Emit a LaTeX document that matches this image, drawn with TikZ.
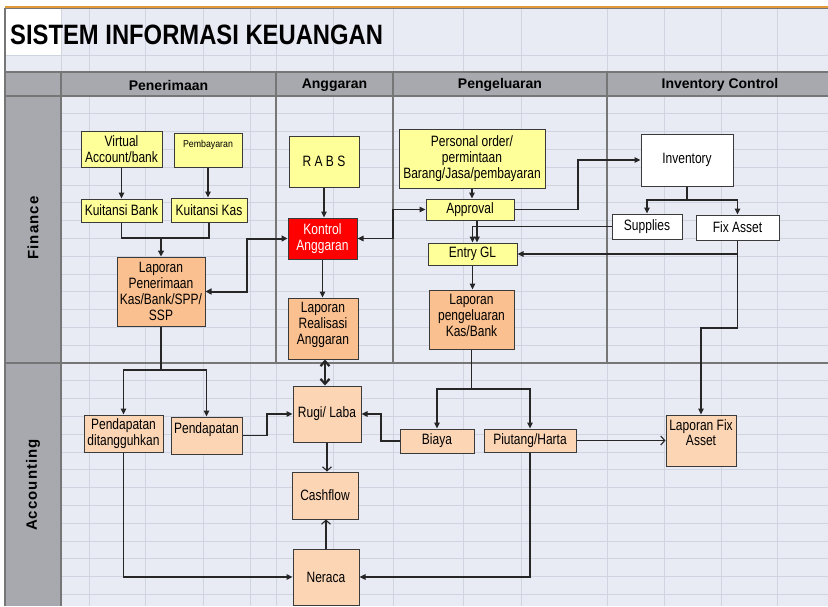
\documentclass[tikz,border=0pt]{standalone}
\usepackage{fontspec}
\setmainfont{Liberation Sans}
\usetikzlibrary{arrows.meta,calc}

\definecolor{sheet}{HTML}{E8EAF4}
\definecolor{gridc}{HTML}{D0D4E1}
\definecolor{band}{HTML}{A7A9AF}
\definecolor{laneline}{HTML}{767676}
\definecolor{boxyel}{HTML}{FFFF99}
\definecolor{boxorg}{HTML}{FAC090}
\definecolor{boxpch}{HTML}{FCD5B4}
\definecolor{boxred}{HTML}{FF0000}
\definecolor{edge}{HTML}{3A3A3A}
\definecolor{wire}{HTML}{262626}
\definecolor{topline}{HTML}{E39B3A}

% condensed text, as the worksheet renders it
\newcommand{\boxfont}{\fontsize{15}{15.8}\selectfont\addfontfeature{FakeStretch=0.8}}
\newcommand{\smallboxfont}{\fontsize{10}{12}\selectfont\addfontfeature{FakeStretch=0.88}}

\begin{document}
\begin{tikzpicture}[x=1pt,y=-1pt,
  gridline/.style={draw=gridc, line width=0.8pt},
  lanedark/.style={draw=laneline, line width=1.2pt},
  hdr/.style={font=\bfseries\fontsize{14}{16}\selectfont, text=black, inner sep=0pt},
  lanelabel/.style={font=\bfseries\fontsize{15}{18}\selectfont\addfontfeature{LetterSpace=7}, rotate=90, inner sep=0pt},
  box/.style={draw=edge, line width=1pt, inner sep=0pt, align=center,
    font=\boxfont, text=black},
  yel/.style={box, fill=boxyel},
  org/.style={box, fill=boxorg},
  pch/.style={box, fill=boxpch},
  wht/.style={box, fill=white},
  arr/.style={draw=wire, line width=1.1pt, -{Triangle[length=6pt,width=5.5pt]}},
  arrboth/.style={draw=wire, line width=1.1pt, {Triangle[length=6pt,width=5.5pt]}-{Triangle[length=6pt,width=5.5pt]}},
  fatboth/.style={draw=wire, line width=2pt, {Triangle[length=6pt,width=6pt]}-{Triangle[length=6pt,width=6pt]}},
  fatarr/.style={draw=wire, line width=2pt, -{Triangle[length=6pt,width=6pt]}},
  barbboth/.style={draw=wire, line width=2.2pt, {Straight Barb[length=5pt,width=9pt]}-{Straight Barb[length=5pt,width=9pt]}},
  openarr/.style={draw=wire, line width=1.1pt, -{Straight Barb[length=4pt,width=9pt]}},
  wire/.style={draw=wire, line width=1.1pt}
]
\useasboundingbox (0,0) rectangle (828,606);

% ---- worksheet background and grid ----
\fill[white] (0,0) rectangle (828,606);
\fill[sheet] (5,8) rectangle (828,606);
\foreach \gx in {61,89,145,203,250,276,333,393,463,521,607,664,721,777}
  \draw[gridline] (\gx,8) -- (\gx,606);
\draw[gridline] (5,55) -- (828,55);
\foreach \k in {1,...,14}
  \draw[gridline] (61,{96+17.8*\k}) -- (828,{96+17.8*\k});
\foreach \k in {1,...,13}
  \draw[gridline] (61,{363+17.8*\k}) -- (828,{363+17.8*\k});
\fill[white] (5.6,8.8) rectangle (60.6,54.6);

% ---- header band and lane column ----
\fill[band] (5,72) rectangle (828,96);
\fill[band] (5,96) rectangle (61,606);
\draw[lanedark] (5,72) -- (828,72);
\draw[lanedark] (5,96) -- (828,96);
\draw[lanedark] (5,363) -- (828,363);
\draw[lanedark] (61,72) -- (61,606);
\foreach \gx in {276,393,607}
  \draw[lanedark] (\gx,72) -- (\gx,363);
\draw[lanedark] (5,8) -- (5,606);
\draw[draw=topline, line width=1.6pt] (5,6.8) -- (828,6.8);
\draw[draw=laneline, line width=0.7pt] (5,8.4) -- (828,8.4);

% ---- title and headings ----
\node[font=\bfseries\fontsize{28}{30}\selectfont\addfontfeature{FakeStretch=0.85}, anchor=west, inner sep=0pt] (title) at (10,35) {SISTEM INFORMASI KEUANGAN};
\node[hdr] (hpen) at (168.5,85) {Penerimaan};
\node[hdr] (hang) at (334.5,85) {Anggaran};
\node[hdr] (hpel) at (500,85) {Pengeluaran};
\node[hdr] (hinv) at (720,85) {Inventory Control};
\node[lanelabel] (lfin) at (33,228) {Finance};
\node[lanelabel] (lacc) at (33,485) {Accounting};

% ---- Finance lane ----
\node[yel, minimum width=81pt, minimum height=36pt] (va) at (121.5,149) {Virtual\\Account/bank};
\node[yel, minimum width=68pt, minimum height=34pt, font=\smallboxfont] (pb) at (208,150) {Pembayaran\\\mbox{}};
\node[yel, minimum width=81pt, minimum height=23pt] (kb) at (121.5,210.5) {Kuitansi Bank};
\node[yel, minimum width=76pt, minimum height=24pt] (kk) at (209,210) {Kuitansi Kas};
\node[org, minimum width=88pt, minimum height=69pt] (lp) at (161,291.5) {Laporan\\Penerimaan\\Kas/Bank/SPP/\\SSP};

\node[yel, minimum width=70pt, minimum height=51pt] (rabs) at (324,161.5) {R A B S};
\node[box, fill=boxred, text=white, minimum width=69pt, minimum height=41pt] (ka) at (322.5,238.5) {Kontrol\\Anggaran};
\node[org, minimum width=70pt, minimum height=61pt] (lr) at (323,328.5) {Laporan\\Realisasi\\Anggaran\\[-6pt]\mbox{}};

\node[yel, minimum width=146pt, minimum height=59pt] (po) at (472,158.5) {Personal order/\\permintaan\\Barang/Jasa/pembayaran};
\node[yel, minimum width=88pt, minimum height=21pt] (ap) at (470,209.5) {Approval};
\node[yel, minimum width=89pt, minimum height=22pt] (eg) at (472.5,254) {Entry GL};
\node[org, minimum width=85pt, minimum height=59pt] (lk) at (471.5,319.5) {Laporan\\pengeluaran\\Kas/Bank\\[-8pt]\mbox{}};

\node[wht, minimum width=92pt, minimum height=52pt] (inv) at (687,160) {Inventory};
\node[wht, minimum width=70pt, minimum height=25pt] (sup) at (647,226.5) {Supplies};
\node[wht, minimum width=83pt, minimum height=25pt] (fa) at (737.5,227.5) {Fix Asset};

% ---- Accounting lane ----
\node[pch, minimum width=79pt, minimum height=37pt] (pd) at (123.5,433.5) {Pendapatan\\ditangguhkan};
\node[pch, minimum width=71pt, minimum height=37pt] (pn) at (206.5,435.5) {Pendapatan\\\mbox{}};
\node[pch, minimum width=68pt, minimum height=56pt] (rl) at (327,414) {Rugi/ Laba};
\node[pch, minimum width=66pt, minimum height=47pt] (cf) at (325,495.5) {Cashflow};
\node[pch, minimum width=66pt, minimum height=56pt] (ne) at (326,577) {Neraca};
\node[pch, minimum width=74pt, minimum height=24pt] (bi) at (437,441) {Biaya};
\node[pch, minimum width=92pt, minimum height=23pt] (ph) at (530,440.5) {Piutang/Harta};
\node[pch, minimum width=70pt, minimum height=51pt] (lfa) at (701,440.5) {Laporan Fix\\Asset\\\mbox{}};

% ---- junction points ----
\coordinate (jk) at (161,238);
\coordinate (jp) at (247,291.5);
\coordinate (ja) at (393,209.5);
\coordinate (jo) at (578,209.5);
\coordinate (ji) at (687,200);
\coordinate (jf) at (737.5,328);
\coordinate (jl) at (161,370);
\coordinate (jn) at (267,435.5);
\coordinate (jb) at (381,441);
\coordinate (jg) at (471.5,389);

% ---- Finance connectors ----
\draw[arr] (va.south) -- (kb.north);
\draw[arr] (pb.south) -- (pb.south |- kk.north);
\draw[wire] (kb.south) |- (jk);
\draw[wire] (kk.south) |- (jk);
\draw[fatarr] (jk) -- (lp.north);
\draw[fatboth] (ka.west) -| (jp) -- (lp.east);
\draw[arr] (rabs.south) -- (rabs.south |- ka.north);
\draw[arr] (ka.south) -- (ka.south |- lr.north);
\draw[arrboth] (ka.east) -| (ja) -- (ap.west);
\draw[arr] (po.south) -- (po.south |- ap.north);
\draw[arr] ([xshift=7pt]ap.south) -- ([xshift=7pt]ap.south |- eg.north);
\draw[arr] (sup.west) -| (eg.north);
\draw[arr] (fa.south) |- (eg.east);
\draw[arr] (fa.south) -- (jf) -| (lfa.north);
\draw[arr] (ap.east) -- (jo) |- (inv.west);
\draw[wire] (inv.south) -- (ji);
\draw[arr] (ji) -| (sup.north);
\draw[arr] (ji) -| (fa.north);
\draw[arr] (eg.south) -- (eg.south |- lk.north);

% ---- Accounting connectors ----
\draw[wire] (lp.south) -- (jl);
\draw[arr] (jl) -| (pd.north);
\draw[arr] (jl) -| (pn.north);
\draw[barbboth] ([xshift=2pt]lr.south) -- ([xshift=2pt]lr.south |- rl.north);
\draw[arr] (pn.east) -- (jn) |- (rl.west);
\draw[arr] (pd.south) |- (ne.west);
\draw[openarr] (rl.south) -- (rl.south |- cf.north);
\draw[openarr] (ne.north) -- (ne.north |- cf.south);
\draw[wire] (lk.south) -- (jg);
\draw[arr] (jg) -| (bi.north);
\draw[arr] (jg) -| (ph.north);
\draw[arr] (bi.west) -- (jb) |- (rl.east);
\draw[arr] (ph.south) |- (ne.east);
\draw[openarr] (ph.east) -- (lfa.west);
\end{tikzpicture}
\end{document}
